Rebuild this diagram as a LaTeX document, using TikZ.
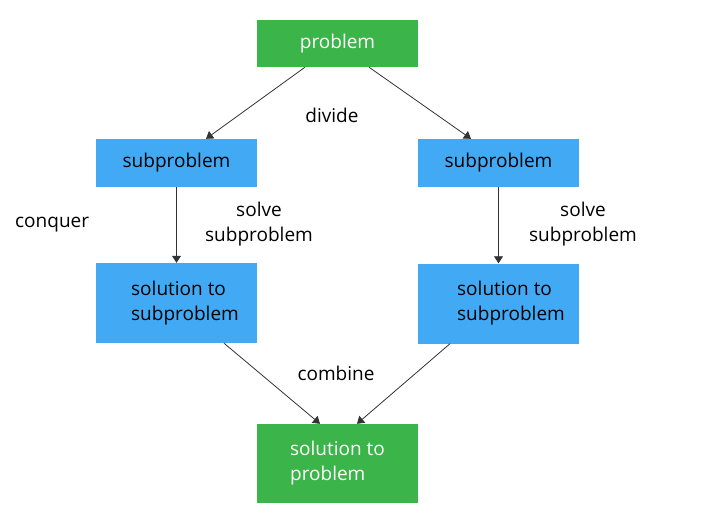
\documentclass[tikz,border=0pt]{standalone}
\usepackage{fontspec}
\setmainfont{Open Sans}
\usetikzlibrary{arrows.meta}
\definecolor{gbox}{HTML}{3BB54A}
\definecolor{bbox}{HTML}{42AAF5}
\definecolor{ln}{HTML}{333333}
\begin{document}
\begin{tikzpicture}[x=1pt,y=-1pt,
  every node/.style={font=\fontsize{19}{25}\selectfont},
  greenbox/.style={fill=gbox,text=white,minimum width=161pt,inner sep=0pt,align=left},
  bluebox/.style={fill=bbox,text=black,minimum width=161pt,inner sep=0pt,align=left},
  conn/.style={draw=ln,line width=0.8pt,-{Triangle[length=7pt,width=9pt]}},
  lbl/.style={text=black,inner sep=0pt,align=center}]
\useasboundingbox (0,0) rectangle (709,514);
\node[greenbox,minimum height=47pt] (problem) at (337.5,43.5) {problem};
\node[bluebox,minimum height=48pt] (subL) at (176.5,163) {subproblem};
\node[bluebox,minimum height=48pt] (subR) at (498.5,163) {subproblem};
\node[bluebox,minimum height=80pt] (solL) at (176.5,303) {\hspace*{17pt}solution to\\\hspace*{17pt}subproblem};
\node[bluebox,minimum height=80pt] (solR) at (498.5,303.5) {\hspace*{25pt}solution to\\\hspace*{25pt}subproblem};
\node[greenbox,minimum height=79pt] (final) at (337.5,463.5) {solution to\\problem};
\node[lbl] (divide) at (332,115) {divide};
\node[lbl,anchor=west] (conquer) at (15,225) {conquer};
\node[lbl] (solveL) at (259,224) {solve\\subproblem};
\node[lbl] (solveR) at (583,224) {solve\\subproblem};
\node[lbl] (combine) at (336,373) {combine};
\draw[conn] ([xshift=-32.5pt]problem.south) -- ([xshift=29.5pt]subL.north);
\draw[conn] ([xshift=31.5pt]problem.south) -- ([xshift=-27.5pt]subR.north);
\draw[conn] (subL.south) -- (solL.north);
\draw[conn] (subR.south) -- (solR.north);
\draw[conn] ([xshift=47.5pt]solL.south) -- ([xshift=-17.5pt]final.north);
\draw[conn] ([xshift=-48.5pt]solR.south) -- ([xshift=19.5pt]final.north);
\end{tikzpicture}
\end{document}
